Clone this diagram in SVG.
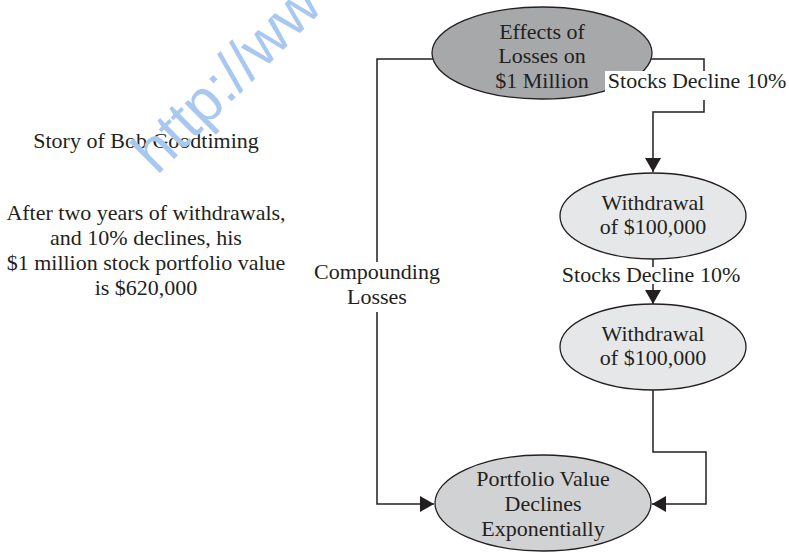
<svg xmlns="http://www.w3.org/2000/svg" width="789" height="552" viewBox="0 0 789 552">
<style>
.t{font-family:'Liberation Serif','Times New Roman','DejaVu Serif',serif;font-size:22px;fill:#231f20;text-anchor:middle}
.ln{fill:none;stroke:#231f20;stroke-width:1.5}
.nd{stroke:#231f20;stroke-width:1.3}
.bg{fill:#fff}
.wm{font-family:'Liberation Sans',Arial,sans-serif;font-size:60px;fill:#a9c8ef;text-anchor:start}
</style>
<defs>
<marker id="ah" markerUnits="userSpaceOnUse" markerWidth="15" markerHeight="17" refX="14" refY="8.5" orient="auto"><path d="M0,0.5 L14,8.5 L0,16.5 z" fill="#231f20"/></marker>
</defs>
<rect width="789" height="552" fill="#fff"/>
<g id="story" class="t">
<text x="146" y="148">Story of Bob Goodtiming</text>
<text x="146" y="220">After two years of withdrawals,</text>
<text x="146" y="245">and 10% declines, his</text>
<text x="146" y="270">$1 million stock portfolio value</text>
<text x="146" y="295">is $620,000</text>
</g>
<g id="connectors">
<path class="ln" d="M433,59 H377 V504 H434" marker-end="url(#ah)"/>
<path class="ln" d="M651,59 H704 V112 H653 V172" marker-end="url(#ah)"/>
<path class="ln" d="M653,259 V304" marker-end="url(#ah)"/>
<path class="ln" d="M653,390 V452 H706 V504 H652" marker-end="url(#ah)"/>
</g>
<g id="n-effects" class="t">
<ellipse class="nd" cx="542" cy="53" rx="110" ry="46" fill="#a7a8aa"/>
<text x="542" y="39">Effects of</text>
<text x="542" y="63">Losses on</text>
<text x="542" y="88">$1 Million</text>
</g>
<g id="n-withdrawal1" class="t">
<ellipse class="nd" cx="653" cy="216" rx="93" ry="43" fill="#e6e7e8"/>
<text x="653" y="210">Withdrawal</text>
<text x="653" y="234">of $100,000</text>
</g>
<g id="n-withdrawal2" class="t">
<ellipse class="nd" cx="653" cy="347" rx="93" ry="43" fill="#e6e7e8"/>
<text x="653" y="341">Withdrawal</text>
<text x="653" y="365">of $100,000</text>
</g>
<g id="n-portfolio" class="t">
<ellipse class="nd" cx="543" cy="503" rx="108" ry="48" fill="#d1d2d4"/>
<text x="543" y="486">Portfolio Value</text>
<text x="543" y="511">Declines</text>
<text x="543" y="536">Exponentially</text>
</g>
<g id="labels" class="t">
<rect class="bg" x="605" y="71" width="184" height="29"/>
<text x="697" y="88">Stocks Decline 10%</text>
<rect class="bg" x="560" y="267" width="184" height="17"/>
<text x="651" y="282">Stocks Decline 10%</text>
<rect class="bg" x="308" y="262" width="138" height="50"/>
<text x="377" y="279">Compounding</text>
<text x="377" y="304">Losses</text>
</g>
<text class="wm" x="0" y="0" transform="translate(157,176) rotate(-45)">http://ww</text>
</svg>
